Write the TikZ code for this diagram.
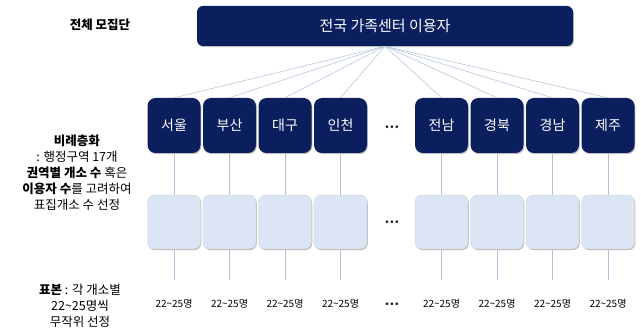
\documentclass[tikz,border=0pt]{standalone}
\usepackage{fontspec}
\setmainfont{Noto Sans CJK KR}
\usetikzlibrary{shadows}
\definecolor{navy}{HTML}{0B1F5E}
\definecolor{lightbox}{HTML}{DCE5F5}
\definecolor{linkc}{HTML}{AEBFDB}
\tikzset{
  topbox/.style={fill=navy, rounded corners=6pt, minimum width=376pt, minimum height=40pt, inner sep=0pt, text=white, font=\fontsize{15}{18}\selectfont,
    drop shadow={shadow xshift=0.8pt, shadow yshift=-1.2pt, fill=black, opacity=0.25}},
  regbox/.style={fill=navy, rounded corners=8pt, minimum width=53pt, minimum height=55pt, inner sep=0pt, text=white, font=\fontsize{14}{16}\selectfont,
    drop shadow={shadow xshift=0.8pt, shadow yshift=-1.2pt, fill=black, opacity=0.25}},
  lbox/.style={fill=lightbox, draw=gray!35, line width=0.4pt, rounded corners=7pt, minimum width=53pt, minimum height=54pt, inner sep=0pt,
    drop shadow={shadow xshift=0.8pt, shadow yshift=-1.2pt, fill=black, opacity=0.25}},
  link/.style={draw=linkc, line width=0.5pt},
  cnt/.style={font=\fontsize{10}{12}\selectfont, inner sep=0pt},
  dots/.style={font=\fontsize{13}{14}\selectfont\bfseries, inner sep=0pt, text=black!85},
  side/.style={align=center, font=\fontsize{12.5}{16}\selectfont, inner sep=0pt}
}
\begin{document}
\begin{tikzpicture}[x=1pt, y=-1pt]
\useasboundingbox (0,0) rectangle (641,331);
\node[topbox] (top) at (385,26) {전국 가족센터 이용자};
\node[side] (lbl1) at (100,25) {\textbf{전체 모집단}};
\node[side] (lbl2) at (77,173) {\textbf{비례층화}\\: 행정구역 17개\\\textbf{권역별 개소 수} 혹은\\\textbf{이용자 수}를 고려하여\\표집개소 수 선정};
\node[side] (lbl3) at (80,306) {\textbf{표본} : 각 개소별\\22\textasciitilde25명씩\\무작위 선정};
\foreach \i/\x/\t in {1/174/서울, 2/229.5/부산, 3/285/대구, 4/340.5/인천, 5/441.5/전남, 6/497/경북, 7/552.5/경남, 8/608/제주} {
  \node[regbox] (r\i) at (\x,125.5) {\t};
  \node[lbox] (l\i) at (\x,222) {};
  \coordinate (e\i) at (\x,280);
  \node[cnt] (n\i) at (\x,304) {22\textasciitilde25명};
  \draw[link] (top.south) -- (r\i.north);
  \draw[link] (r\i.south) -- (l\i.north);
  \draw[link] (l\i.south) -- (e\i);
}
\node[dots] (d1) at (392,127) {…};
\node[dots] (d2) at (392,222) {…};
\node[dots] (d3) at (392,304) {…};
\end{tikzpicture}
\end{document}
